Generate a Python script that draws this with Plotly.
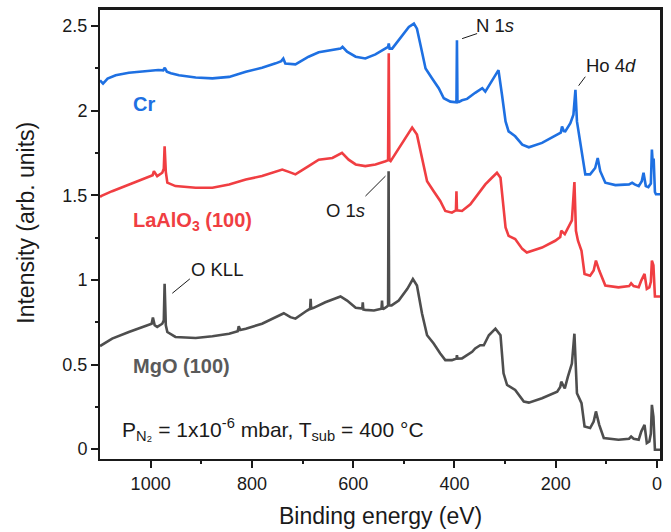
import plotly.graph_objects as go

# ---- data (binding energy in eV, intensity in arb. units) ----
cr_energy = [1100, 1094, 1085, 1069, 1043, 1010, 985, 975, 972, 968, 960, 944, 911, 878, 845, 812, 780, 753,
             742, 738, 734, 714, 688, 668, 641, 625, 621, 612, 595, 576, 556, 536, 531, 529.7, 528, 523, 503,
             490, 480, 474, 467, 457, 444, 431, 421, 408, 396, 395, 394, 391, 385, 375, 359, 345, 339, 329,
             319, 313, 306, 299, 293, 280, 266, 253, 227, 201, 190, 187.5, 184, 181, 171, 165, 161, 158, 151,
             148, 141.5, 132, 122, 117, 112, 102, 82, 55, 49, 44, 36, 30, 26.5, 22, 17, 12, 10, 8, 6.5, 4, 2, -8]
cr_intensity = [2.179, 2.159, 2.189, 2.209, 2.223, 2.233, 2.240, 2.238, 2.253, 2.230, 2.221, 2.209, 2.195, 2.190,
                2.199, 2.229, 2.253, 2.279, 2.292, 2.307, 2.278, 2.273, 2.318, 2.344, 2.357, 2.366, 2.377, 2.348,
                2.318, 2.308, 2.332, 2.366, 2.376, 2.396, 2.366, 2.366, 2.445, 2.494, 2.514, 2.484, 2.387, 2.249,
                2.190, 2.132, 2.073, 2.053, 2.049, 2.416, 2.051, 2.051, 2.061, 2.069, 2.105, 2.132, 2.112, 2.161,
                2.211, 2.239, 2.092, 1.936, 1.877, 1.848, 1.799, 1.783, 1.809, 1.848, 1.869, 1.906, 1.879, 1.877,
                1.926, 1.975, 2.122, 1.936, 1.799, 1.740, 1.623, 1.623, 1.661, 1.720, 1.642, 1.574, 1.560, 1.564,
                1.574, 1.564, 1.554, 1.583, 1.633, 1.554, 1.548, 1.569, 1.770, 1.677, 1.716, 1.519, 1.506, 1.506]

lao_energy = [1100, 1097, 1076, 1043, 1010, 996, 993.5, 987, 977, 974, 972.4, 970, 967, 951, 911, 878, 845, 812,
              780, 753, 740, 727, 714, 688, 668, 641, 622, 609, 595, 576, 556, 536, 531, 529.7, 528.5, 526, 510,
              493, 483.5, 474, 464, 454, 441, 428, 418, 405, 397, 396, 395, 385, 368.5, 358, 350, 339, 326, 316,
              309, 303, 299, 293, 280, 266, 257, 227, 201, 191, 189, 182, 175, 168, 163, 160, 156, 149, 143, 132,
              125, 120.5, 114, 102, 76, 55, 51, 46, 36, 31, 24.5, 20, 15, 12, 10, 7, 4, -8]
lao_intensity = [1.490, 1.496, 1.524, 1.564, 1.603, 1.618, 1.642, 1.613, 1.633, 1.657, 1.789, 1.638, 1.574, 1.554,
                 1.544, 1.544, 1.564, 1.593, 1.613, 1.642, 1.652, 1.638, 1.623, 1.672, 1.710, 1.720, 1.750, 1.710,
                 1.682, 1.672, 1.682, 1.701, 1.707, 2.338, 1.707, 1.701, 1.779, 1.858, 1.900, 1.858, 1.720, 1.583,
                 1.524, 1.466, 1.407, 1.397, 1.411, 1.524, 1.411, 1.407, 1.446, 1.490, 1.519, 1.564, 1.603, 1.633,
                 1.603, 1.421, 1.309, 1.260, 1.241, 1.183, 1.162, 1.191, 1.231, 1.253, 1.290, 1.270, 1.309, 1.352,
                 1.578, 1.290, 1.231, 1.172, 1.035, 1.025, 1.055, 1.114, 1.055, 0.967, 0.956, 0.963, 0.980, 0.963,
                 0.956, 0.996, 1.035, 0.947, 0.956, 0.988, 1.114, 1.086, 0.902, 0.902]

mgo_energy = [1100, 1097, 1076, 1043, 1010, 998, 995.5, 992, 987, 977, 974, 972.4, 970, 967, 951, 911, 878, 845,
              828, 826, 823, 812, 780, 753, 737, 724, 714, 691, 685, 684, 683, 678, 655, 625, 612, 595, 582, 581,
              580, 576, 559, 544, 543, 542, 540, 533, 531, 530, 529, 524, 510, 493, 482, 474, 464, 454, 441, 428,
              418, 405, 396, 395, 394, 385, 365, 359, 349, 342, 332, 319, 309, 303, 296, 280, 263, 253, 227, 197,
              191, 189, 182, 176, 168, 163, 158, 149, 143, 132, 125, 120.5, 114, 105, 76, 55, 51, 46, 36, 31, 24.5,
              20, 15, 12, 10, 7, 4, -8]
mgo_intensity = [0.609, 0.614, 0.653, 0.692, 0.726, 0.741, 0.777, 0.732, 0.722, 0.741, 0.761, 0.977, 0.732, 0.692,
                 0.663, 0.657, 0.667, 0.682, 0.697, 0.726, 0.704, 0.712, 0.741, 0.780, 0.803, 0.780, 0.771, 0.819,
                 0.830, 0.888, 0.830, 0.835, 0.868, 0.902, 0.878, 0.835, 0.830, 0.868, 0.825, 0.823, 0.819, 0.830,
                 0.878, 0.830, 0.829, 0.843, 0.850, 1.642, 0.850, 0.849, 0.878, 0.947, 1.005, 0.967, 0.801, 0.673,
                 0.624, 0.565, 0.526, 0.526, 0.535, 0.555, 0.535, 0.536, 0.575, 0.595, 0.614, 0.614, 0.673, 0.712,
                 0.673, 0.448, 0.379, 0.350, 0.281, 0.275, 0.301, 0.340, 0.367, 0.399, 0.359, 0.427, 0.506, 0.682,
                 0.330, 0.272, 0.134, 0.125, 0.163, 0.223, 0.144, 0.066, 0.056, 0.062, 0.075, 0.062, 0.056, 0.104,
                 0.144, 0.036, 0.046, 0.092, 0.262, 0.193, -0.003, -0.003]

x_tick_vals = [1000, 800, 600, 400, 200, 0]
x_minor_ticks = [900, 700, 500, 300, 100]
y_tick_vals = [0, 0.5, 1, 1.5, 2, 2.5]
y_minor_ticks = [0.25, 0.75, 1.25, 1.75, 2.25]

X_RANGE = [1100, -8]
Y_RANGE = [-0.058, 2.60]

BLUE = "rgb(30,112,226)"
RED = "rgb(240,62,66)"
GRAY = "rgb(78,78,78)"
FONT = "Liberation Sans, Arial, sans-serif"
INK = "#1a1a1a"

fig = go.Figure()
for xs, ys, col in [(mgo_energy, mgo_intensity, GRAY),
                    (lao_energy, lao_intensity, RED),
                    (cr_energy, cr_intensity, BLUE)]:
    fig.add_trace(go.Scatter(x=xs, y=ys, mode="lines",
                             line=dict(color=col, width=2.6), showlegend=False, hoverinfo="skip"))
# empty traces that carry the overlaid axes (minor ticks; top/right frame)
fig.add_trace(go.Scatter(x=[None], y=[None], xaxis="x2", yaxis="y2", mode="lines",
                         showlegend=False, hoverinfo="skip"))
fig.add_trace(go.Scatter(x=[None], y=[None], xaxis="x3", yaxis="y3", mode="lines",
                         showlegend=False, hoverinfo="skip"))

main_axis = dict(showgrid=False, zeroline=False, showline=True, linecolor=INK, linewidth=2,
                 mirror=True, ticks="outside", ticklen=7, tickwidth=1.5, tickcolor=INK,
                 tickfont=dict(family=FONT, size=18, color=INK))
minor_axis = dict(showgrid=False, zeroline=False, showline=False, showticklabels=False,
                  ticks="outside", ticklen=4, tickwidth=1.5, tickcolor=INK)
frame_axis = dict(showgrid=False, zeroline=False, showline=True, linecolor=INK, linewidth=2,
                  showticklabels=False, ticks="")

fig.update_layout(
    width=671, height=532,
    margin=dict(l=100, r=10, t=7, b=73),
    paper_bgcolor="white", plot_bgcolor="white",
    font=dict(family=FONT, color=INK),
    xaxis=dict(range=X_RANGE, tickvals=x_tick_vals, **main_axis),
    yaxis=dict(range=Y_RANGE, tickvals=y_tick_vals, **main_axis),
    xaxis2=dict(range=X_RANGE, tickvals=x_minor_ticks, overlaying="x", anchor="y2", side="bottom", **minor_axis),
    yaxis2=dict(range=Y_RANGE, tickvals=y_minor_ticks, overlaying="y", anchor="x2", side="left", **minor_axis),
    xaxis3=dict(range=X_RANGE, overlaying="x", anchor="y3", side="top", **frame_axis),
    yaxis3=dict(range=Y_RANGE, overlaying="y", anchor="x3", side="right", **frame_axis),
)

ann = []
# axis titles
ann.append(dict(text="Binding energy (eV)", xref="paper", yref="paper", x=0.5, y=-0.1275,
                xanchor="center", yanchor="middle", showarrow=False, font=dict(size=23, family=FONT, color=INK)))
ann.append(dict(text="Intensity (arb. units)", xref="paper", yref="paper", x=-0.131, y=0.524,
                xanchor="center", yanchor="middle", textangle=-90, showarrow=False,
                font=dict(size=23, family=FONT, color=INK)))
# sample labels
ann.append(dict(text="<b>Cr</b>", x=1039.5, y=2.036, xanchor="left", yanchor="middle", showarrow=False,
                font=dict(size=20, family=FONT, color=BLUE)))
ann.append(dict(text="<b>LaAlO<sub>3</sub> (100)</b>", x=1039.5, y=1.345, xanchor="left", yanchor="middle",
                showarrow=False, font=dict(size=20, family=FONT, color=RED)))
ann.append(dict(text="<b>MgO (100)</b>", x=1039.5, y=0.491, xanchor="left", yanchor="middle", showarrow=False,
                font=dict(size=20, family=FONT, color="rgb(90,90,90)")))
# peak labels
ann.append(dict(text="O KLL", x=869.4, y=1.061, xanchor="center", yanchor="middle", showarrow=False,
                font=dict(size=18.5, family=FONT, color=INK)))
ann.append(dict(text="O 1<i>s</i>", x=615.2, y=1.407, xanchor="center", yanchor="middle", showarrow=False,
                font=dict(size=18.5, family=FONT, color=INK)))
ann.append(dict(text="N 1<i>s</i>", x=319.1, y=2.50, xanchor="center", yanchor="middle", showarrow=False,
                font=dict(size=18.5, family=FONT, color=INK)))
ann.append(dict(text="Ho 4<i>d</i>", x=90.2, y=2.265, xanchor="center", yanchor="middle", showarrow=False,
                font=dict(size=18.5, family=FONT, color=INK)))
# conditions
ann.append(dict(text="P<sub>N\u2082</sub> = 1x10<sup>-6</sup> mbar, T<sub>sub</sub> = 400 °C",
                x=1060.6, y=0.115, xanchor="left", yanchor="middle", showarrow=False,
                font=dict(size=21, family=FONT, color=INK)))
fig.update_layout(annotations=ann)

# leader lines
for (x0, y0, x1, y1) in [(957.2, 0.921, 922.5, 1.006),
                         (575.7, 1.495, 536.2, 1.613),
                         (384.8, 2.425, 355.2, 2.455),
                         (154.7, 2.147, 141.5, 2.200)]:
    fig.add_shape(type="line", x0=x0, y0=y0, x1=x1, y1=y1, xref="x", yref="y",
                  line=dict(color=INK, width=1))

# top and right frame lines of the plot area
fig.add_shape(type="line", xref="paper", yref="paper", x0=0, y0=1, x1=1, y1=1,
              line=dict(color=INK, width=2), layer="above")
fig.add_shape(type="line", xref="paper", yref="paper", x0=1, y0=0, x1=1, y1=1,
              line=dict(color=INK, width=2), layer="above")

fig.write_html("out.html", config={"displayModeBar": False},
               post_script="document.body.style.margin='0';document.body.style.overflow='hidden';")
